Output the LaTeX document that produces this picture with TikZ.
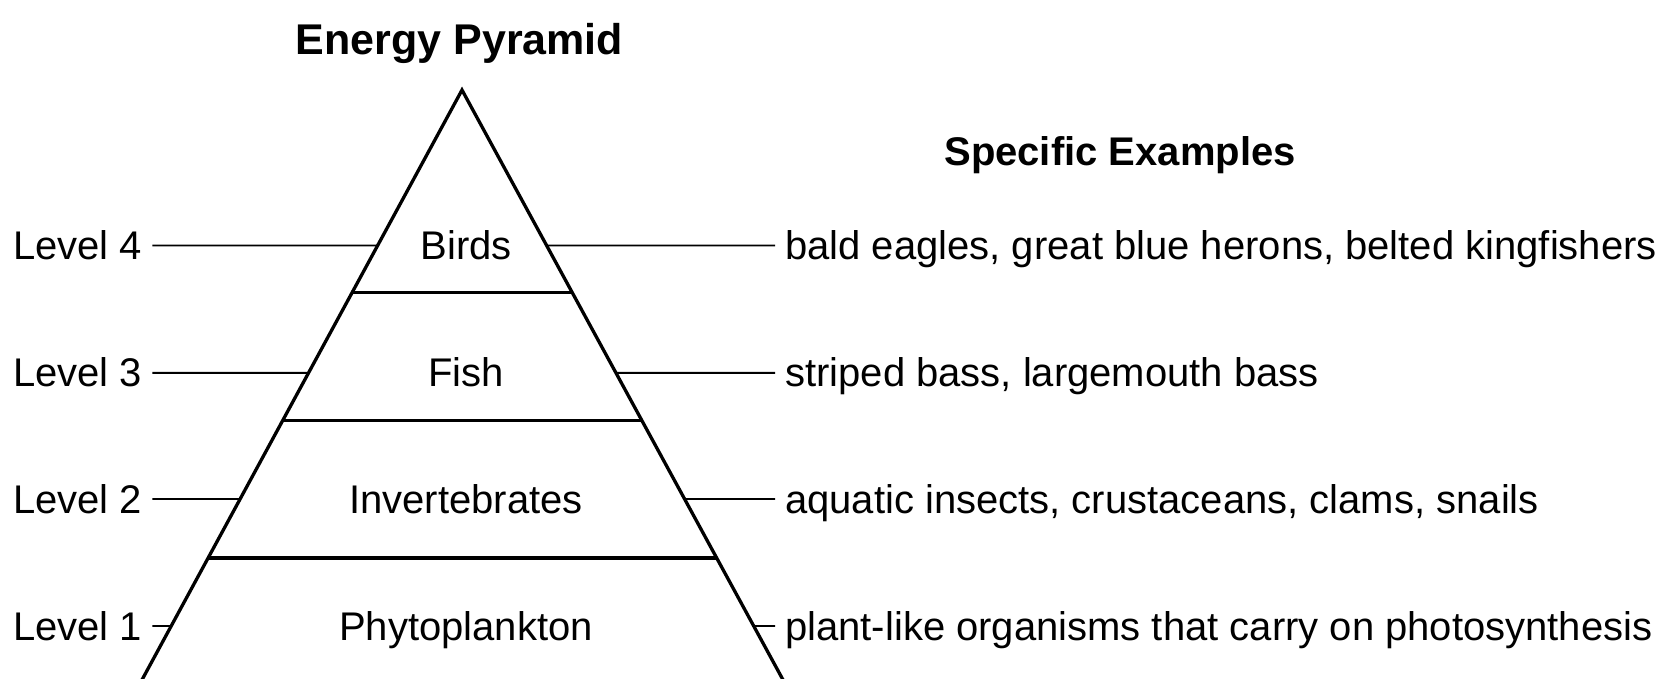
\documentclass[tikz,border=0pt]{standalone}
\usepackage{fontspec}
\setmainfont{Liberation Sans}
\usetikzlibrary{calc}
\begin{document}
\begin{tikzpicture}[x=1pt,y=-1pt,
  side/.style={line width=3.3pt, line join=miter, line cap=butt},
  divider/.style={line width=3.1pt},
  leader/.style={line width=1.9pt},
  txt/.style={font=\fontsize{40}{48}\selectfont, inner xsep=10pt, inner ysep=0pt,
              text height=28pt, text depth=0pt},
  lvl/.style={txt, anchor=west},
  ex/.style={txt, anchor=west},
  tier/.style={txt, anchor=center},
  head/.style={font=\bfseries\fontsize{#1}{#1}\selectfont, inner sep=0pt, anchor=base}]
\useasboundingbox (0,0) rectangle (1661,678);
\clip (0,0) rectangle (1661,678);

% pyramid
\coordinate (apex) at (462,90);
\coordinate (bl) at (143,678);
\coordinate (br) at (782,678);
\draw[side] ($(bl)!-0.03!(apex)$) -- (apex) -- ($(br)!-0.03!(apex)$);

% dividers
\foreach \t [count=\i] in {0.3442,0.5621,0.7959}{
  \coordinate (d\i l) at ($(apex)!\t!(bl)$);
  \coordinate (d\i r) at ($(apex)!\t!(br)$);
}
\draw[divider] (d1l) -- (d1r);
\draw[divider] (d2l) -- (d2r);
\draw[divider] (d3l) -- (d3r);

% side points for leaders
\foreach \t [count=\i] in {0.2645,0.4811,0.6956,0.9116}{
  \coordinate (s\i l) at ($(apex)!\t!(bl)$);
  \coordinate (s\i r) at ($(apex)!\t!(br)$);
}

% titles
\node[head=43] (title) at (459.5,54) {Energy Pyramid};
\node[head=40] (spec) at (1120,165) {Specific Examples};

% level labels
\node[lvl] (lv4) at (3,245.5) {Level 4};
\node[lvl] (lv3) at (3,372.9) {Level 3};
\node[lvl] (lv2) at (3,499) {Level 2};
\node[lvl] (lv1) at (3,626) {Level 1};

% tier names
\node[tier] (birds) at (466,245.5) {Birds};
\node[tier] (fish) at (466,372.9) {Fish};
\node[tier] (inv) at (466,499) {Invertebrates};
\node[tier] (phy) at (466,626) {Phytoplankton};

% examples
\node[ex] (ex4) at (775,245.5) {bald eagles, great blue herons, belted kingfishers};
\node[ex] (ex3) at (775,372.9) {striped bass, largemouth bass};
\node[ex] (ex2) at (775,499) {aquatic insects, crustaceans, clams, snails};
\node[ex] (ex1) at (775,626) {plant-like organisms that carry on photosynthesis};

% leaders
\draw[leader] (lv4.east) -- (s1l);
\draw[leader] (lv3.east) -- (s2l);
\draw[leader] (lv2.east) -- (s3l);
\draw[leader] (lv1.east) -- (s4l);
\draw[leader] (s1r) -- (ex4.west);
\draw[leader] (s2r) -- (ex3.west);
\draw[leader] (s3r) -- (ex2.west);
\draw[leader] (s4r) -- (ex1.west);
\end{tikzpicture}
\end{document}
